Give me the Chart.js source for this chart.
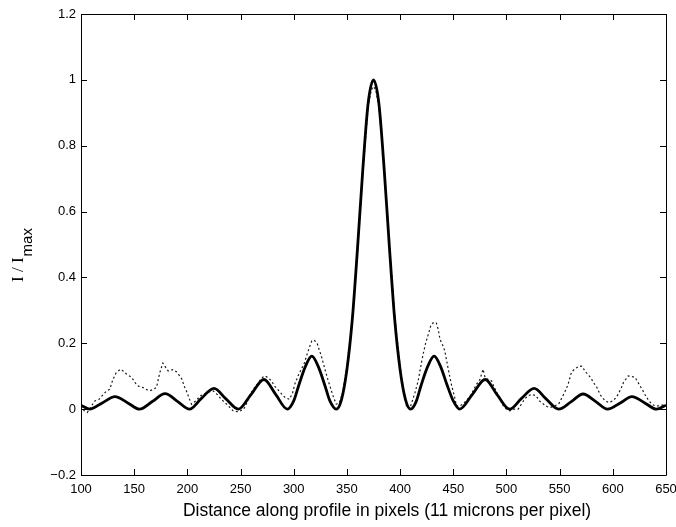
<!DOCTYPE html>
<html>
<head>
<meta charset="utf-8">
<script src="https://cdn.jsdelivr.net/npm/chart.js@4.4.1/dist/chart.umd.min.js"></script>
<style>
  html, body { margin: 0; padding: 0; background: #fff; }
  #wrap { width: 676px; height: 527px; position: relative; }
</style>
</head>
<body>
<div id="wrap"><canvas id="profileChart"></canvas></div>
<script>
// theoretical profile (solid)
var theoryX = [100, 108, 120, 132, 144, 155, 167, 179, 191, 202, 213, 225, 236, 248, 260, 272, 283, 294,
  300, 305, 311, 317, 323, 329, 334, 340, 345, 350, 355, 360, 365, 370, 375, 380, 385, 390, 395, 400, 405, 410,
  415, 420, 426, 432, 438, 444, 450, 456, 468, 480, 491, 503, 514, 526, 537, 549, 561, 572, 584, 595,
  607, 618, 630, 641, 650];
var theoryY = [0.012, 0, 0.019, 0.038, 0.019, 0, 0.023, 0.047, 0.023, 0, 0.032, 0.063, 0.032, 0, 0.045, 0.09, 0.045, 0,
  0.025, 0.075, 0.13, 0.161, 0.13, 0.075, 0.025, 0, 0.03, 0.12, 0.27, 0.49, 0.73, 0.93, 1.0, 0.93, 0.73, 0.49, 0.27, 0.12, 0.03, 0,
  0.022, 0.075, 0.13, 0.161, 0.13, 0.075, 0.025, 0, 0.045, 0.09, 0.045, 0, 0.032, 0.063, 0.032, 0, 0.023, 0.046, 0.023, 0,
  0.019, 0.038, 0.019, 0, 0.012];

// measured profile (dotted)
var measuredX = [100, 103, 106, 110, 113, 117, 121, 124, 127, 130, 133, 137, 140, 143, 146, 149, 152, 154, 158, 161,
  165, 168, 171, 174, 177, 180, 182, 186, 190, 193, 195, 197, 199, 202, 204, 208, 212, 218, 224, 228,
  232, 237, 243, 248, 253, 256, 259, 263, 267, 270, 273, 276, 279, 282, 286, 289, 292, 296, 299, 301,
  304, 307, 310, 312, 315, 317, 319, 322, 324, 326, 329, 332, 335, 337, 340, 343, 346, 350, 355, 360,
  365, 370, 373, 375, 377, 380, 385, 390, 395, 400, 403, 406, 409, 411, 414, 417, 420, 422, 424, 426.5,
  429, 431, 434, 436, 437.5, 440, 442, 445, 448.5, 451, 453, 456, 459, 462, 466, 469, 472, 475, 478, 480,
  483, 486, 488, 491, 494, 497, 500, 503, 507, 511, 514, 517, 520, 524, 528, 531, 535, 538, 541, 545,
  549, 553, 556, 558, 561, 564, 566, 569, 571, 573, 575, 578, 580, 583, 585, 588, 590, 593, 596, 600,
  603, 605, 608, 610, 612, 614.5, 617, 621, 623, 625.5, 628, 630, 633, 636.5, 640, 643, 646, 650];
var measuredY = [0.01, -0.005, -0.01, 0.01, 0.025, 0.03, 0.045, 0.055, 0.06, 0.09, 0.11, 0.121, 0.115, 0.106, 0.1, 0.09, 0.075, 0.07, 0.066, 0.06,
  0.056, 0.06, 0.066, 0.11, 0.14, 0.125, 0.116, 0.12, 0.113, 0.1, 0.09, 0.07, 0.056, 0.03, 0.015, 0.025, 0.04, 0.05, 0.056, 0.045,
  0.03, 0.015, -0.005, -0.008, 0, 0.02, 0.045, 0.065, 0.081, 0.095, 0.101, 0.095, 0.086, 0.07, 0.056, 0.045, 0.035, 0.03, 0.05, 0.076,
  0.1, 0.121, 0.14, 0.161, 0.19, 0.207, 0.21, 0.2, 0.18, 0.161, 0.125, 0.091, 0.06, 0.04, 0.015, 0.02, 0.05, 0.13, 0.27, 0.48,
  0.72, 0.92, 0.97, 0.98, 0.97, 0.92, 0.74, 0.5, 0.28, 0.13, 0.06, 0.01, 0, 0.02, 0.05, 0.086, 0.14, 0.172, 0.2, 0.227,
  0.255, 0.262, 0.263, 0.24, 0.212, 0.195, 0.177, 0.126, 0.071, 0.04, 0.01, 0.01, 0.015, 0.025, 0.04, 0.058, 0.076, 0.09, 0.121, 0.095,
  0.09, 0.086, 0.07, 0.05, 0.03, 0.01, 0, -0.005, 0, 0, 0.015, 0.03, 0.04, 0.045, 0.04, 0.025, 0.015, 0.008, 0.005, 0.01,
  0.015, 0.04, 0.06, 0.076, 0.111, 0.122, 0.126, 0.131, 0.13, 0.12, 0.111, 0.1, 0.091, 0.075, 0.066, 0.045, 0.035, 0.025, 0.02, 0.025,
  0.035, 0.045, 0.065, 0.081, 0.09, 0.101, 0.1, 0.096, 0.085, 0.071, 0.058, 0.045, 0.03, 0.015, 0.01, 0.01, 0.012, 0.015];

var xTitle = "Distance along profile in pixels (11 microns per pixel)";

function toPoints(xs, ys) {
  return xs.map(function (x, i) { return { x: x, y: ys[i] }; });
}

// box, inward ticks and axis titles, matlab style
var frame = {
  id: "frame",
  afterDraw: function (chart) {
    var ctx = chart.ctx, a = chart.chartArea;
    var sx = chart.scales.x, sy = chart.scales.y;
    ctx.save();
    ctx.strokeStyle = "#000";
    ctx.lineWidth = 1;
    ctx.beginPath();
    ctx.rect(Math.round(a.left) + 0.5, Math.round(a.top) + 0.5, Math.round(a.right - a.left), Math.round(a.bottom - a.top));
    sx.ticks.forEach(function (t) {
      var px = Math.round(sx.getPixelForValue(t.value)) + 0.5;
      ctx.moveTo(px, a.bottom); ctx.lineTo(px, a.bottom - 6);
      ctx.moveTo(px, a.top); ctx.lineTo(px, a.top + 6);
    });
    sy.ticks.forEach(function (t) {
      var py = Math.round(sy.getPixelForValue(t.value)) + 0.5;
      ctx.moveTo(a.left, py); ctx.lineTo(a.left + 6, py);
      ctx.moveTo(a.right, py); ctx.lineTo(a.right - 6, py);
    });
    ctx.stroke();

    ctx.fillStyle = "#000";
    ctx.font = "17.5px 'Liberation Sans', Arial, sans-serif";
    ctx.textAlign = "center";
    ctx.textBaseline = "alphabetic";
    ctx.fillText(xTitle, 387, 516);

    // I / I_max
    ctx.translate(23, 282);
    ctx.rotate(-Math.PI / 2);
    ctx.textAlign = "left";
    ctx.font = "17px 'Liberation Serif', 'Times New Roman', serif";
    ctx.fillText("I / I", 0, 0);
    var w = ctx.measureText("I / I").width;
    ctx.font = "15px 'Liberation Sans', Arial, sans-serif";
    ctx.fillText("max", w + 1, 9);
    ctx.restore();
  }
};

function tickText(v) {
  return (Math.round(v * 10) / 10).toString().replace("-", "\u2212");
}

var ctx = document.getElementById("profileChart").getContext("2d");
var chart = new Chart(ctx, {
  type: "line",
  data: {
    datasets: [{
      label: "measured",
      data: toPoints(measuredX, measuredY),
      borderColor: "rgba(0,0,0,0.9)",
      borderWidth: 1.2,
      borderDash: [2, 2.5],
      pointRadius: 0,
      tension: 0,
      fill: false
    }, {
      label: "theory",
      data: toPoints(theoryX, theoryY),
      borderColor: "#000",
      borderWidth: 2.8,
      pointRadius: 0,
      cubicInterpolationMode: "monotone",
      fill: false
    }]
  },
  options: {
    responsive: true,
    maintainAspectRatio: false,
    animation: false,
    layout: { padding: { top: 14, right: 10, left: 0, bottom: 0 } },
    plugins: { legend: { display: false }, tooltip: { enabled: false } },
    scales: {
      x: {
        type: "linear",
        min: 100,
        max: 650,
        grid: { display: false, drawTicks: false },
        border: { display: false },
        ticks: {
          stepSize: 50,
          padding: 7,
          color: "#000",
          maxRotation: 0,
          font: { family: "'Liberation Sans', Arial, sans-serif", size: 13 },
          callback: tickText
        },
        afterFit: function (s) { s.height = 52; s.paddingLeft = 0; s.paddingRight = 0; }
      },
      y: {
        min: -0.2,
        max: 1.2,
        grid: { display: false, drawTicks: false },
        border: { display: false },
        ticks: {
          stepSize: 0.2,
          padding: 5,
          color: "#000",
          font: { family: "'Liberation Sans', Arial, sans-serif", size: 13 },
          callback: tickText
        },
        afterFit: function (s) { s.width = 81; s.paddingTop = 0; s.paddingBottom = 0; }
      }
    }
  },
  plugins: [frame]
});
</script>
</body>
</html>
